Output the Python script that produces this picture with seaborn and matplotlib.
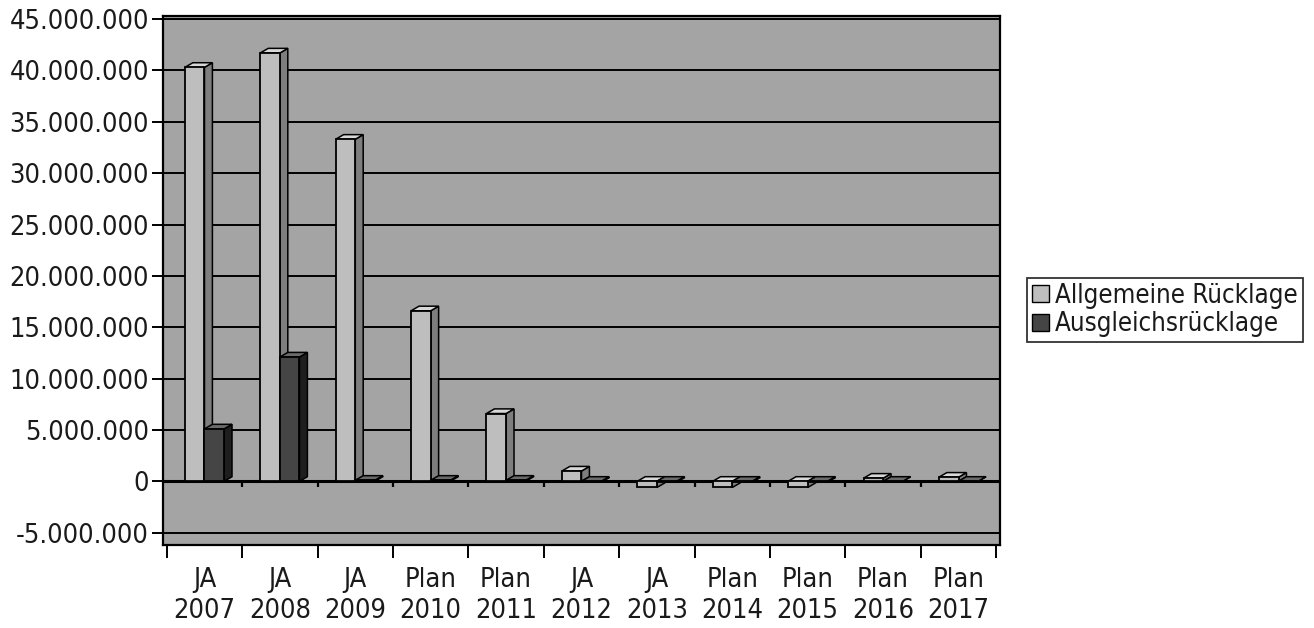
import matplotlib
matplotlib.use("Agg")
import matplotlib.pyplot as plt
from matplotlib.patches import Polygon, Patch
from matplotlib.ticker import FuncFormatter, FixedLocator
import seaborn as sns
import pandas as pd
import numpy as np

# --- data -------------------------------------------------------------
jahre = ["JA\n2007", "JA\n2008", "JA\n2009", "Plan\n2010", "Plan\n2011", "JA\n2012",
         "JA\n2013", "Plan\n2014", "Plan\n2015", "Plan\n2016", "Plan\n2017"]
allgemeine_ruecklage = [40_300_000, 41_700_000, 33_300_000, 16_600_000, 6_600_000, 1_000_000,
                        -600_000, -600_000, -600_000, 300_000, 400_000]
ausgleichsruecklage = [5_100_000, 12_100_000, 100_000, 100_000, 100_000, -100_000,
                       -100_000, -100_000, -100_000, 0, 0]
reihen = ["Allgemeine Rücklage", "Ausgleichsrücklage"]
y_ticks = list(range(-5_000_000, 45_000_001, 5_000_000))

df = pd.DataFrame({
    "Jahr": jahre * 2,
    "Wert": allgemeine_ruecklage + ausgleichsruecklage,
    "Reihe": [reihen[0]] * len(jahre) + [reihen[1]] * len(jahre),
})

# --- styling ----------------------------------------------------------
sns.set_theme(style="white")
plt.rcParams["font.family"] = ["DejaVu Sans"]
plt.rcParams["font.stretch"] = "condensed"

wall = "#a4a4a4"
farben = {reihen[0]: "#bebebe", reihen[1]: "#454545"}
seiten = {reihen[0]: "#7e7e7e", reihen[1]: "#1e1e1e"}
deckel = {reihen[0]: "#d8d8d8", reihen[1]: "#6a6a6a"}
textfarbe = "#1a1a1a"

fig = plt.figure(figsize=(13.14, 6.28), dpi=100)
fig.patch.set_facecolor("white")
ax = fig.add_axes([163 / 1314, 1 - 545 / 628, (1000 - 163) / 1314, (545 - 16) / 628])
ax.set_facecolor(wall)

sns.barplot(data=df, x="Jahr", y="Wert", hue="Reihe", palette=farben,
            width=0.52, edgecolor="black", linewidth=1.3, legend=False, ax=ax,
            zorder=3)

ax.set_xlim(-0.55, len(jahre) - 0.45)
ax.set_ylim(-6_200_000, 45_300_000)

# depth of the pseudo-3D columns (in data units)
dx = 8 / 76.1
dy = 0.45e6

bars = [p for p in ax.patches]
bars.sort(key=lambda p: p.get_x())
for k, p in enumerate(bars):
    x, w = p.get_x(), p.get_width()
    y0, h = p.get_y(), p.get_height()
    lo, hi = min(y0, y0 + h), max(y0, y0 + h)
    reihe = reihen[0] if np.allclose(p.get_facecolor()[:3],
                                      matplotlib.colors.to_rgb(farben[reihen[0]])) else reihen[1]
    z = 3 + 0.01 * k
    p.set_zorder(z + 0.002)
    side = Polygon([(x + w, lo), (x + w + dx, lo + dy), (x + w + dx, hi + dy), (x + w, hi)],
                   closed=True, facecolor=seiten[reihe], edgecolor="black", linewidth=1.1, zorder=z)
    top = Polygon([(x, hi), (x + dx, hi + dy), (x + w + dx, hi + dy), (x + w, hi)],
                  closed=True, facecolor=deckel[reihe], edgecolor="black", linewidth=1.1, zorder=z + 0.001)
    ax.add_patch(side)
    ax.add_patch(top)

# grid on the back wall
for v in y_ticks:
    ax.axhline(v, color="black", linewidth=1.4, zorder=1)
ax.axhline(0, color="black", linewidth=2.2, zorder=2)

# category separators on the zero line
grenzen = np.arange(len(jahre) + 1) - 0.5
ax.vlines(grenzen[1:-1], -600_000, 0, color="black", linewidth=1.6, zorder=2)

# axes, ticks and labels
ax.yaxis.set_major_locator(FixedLocator(y_ticks))
ax.yaxis.set_major_formatter(FuncFormatter(lambda v, _: f"{v:,.0f}".replace(",", ".")))
ax.tick_params(axis="y", which="major", direction="out", length=8, width=1.4,
               color="black", labelsize=19.5, labelcolor=textfarbe, pad=2, left=True)

ax.set_xticks(range(len(jahre)))
ax.set_xticklabels(jahre, linespacing=1.25)
ax.xaxis.set_minor_locator(FixedLocator(grenzen))
ax.tick_params(axis="x", which="major", length=0, labelsize=19.5, labelcolor=textfarbe, pad=16)
ax.tick_params(axis="x", which="minor", direction="out", length=9, width=1.4, color="black",
               bottom=True)
ax.set_xlabel("")
ax.set_ylabel("")

for s in ax.spines.values():
    s.set_visible(True)
    s.set_color("black")
    s.set_linewidth(1.6)

# legend
handles = [Patch(facecolor=farben[r], edgecolor="black", linewidth=1.0, label=r) for r in reihen]
leg = fig.legend(handles=handles, loc="center left",
                 bbox_to_anchor=(1027 / 1314, 1 - 310 / 628),
                 fontsize=18.5, frameon=True, fancybox=False, edgecolor="black",
                 handlelength=0.65, handleheight=0.65, handletextpad=0.25,
                 borderpad=0.2, labelspacing=0.1, borderaxespad=0)
leg.get_frame().set_linewidth(1.3)
for t in leg.get_texts():
    t.set_color(textfarbe)

fig.savefig("out.png", dpi=100, facecolor="white")
